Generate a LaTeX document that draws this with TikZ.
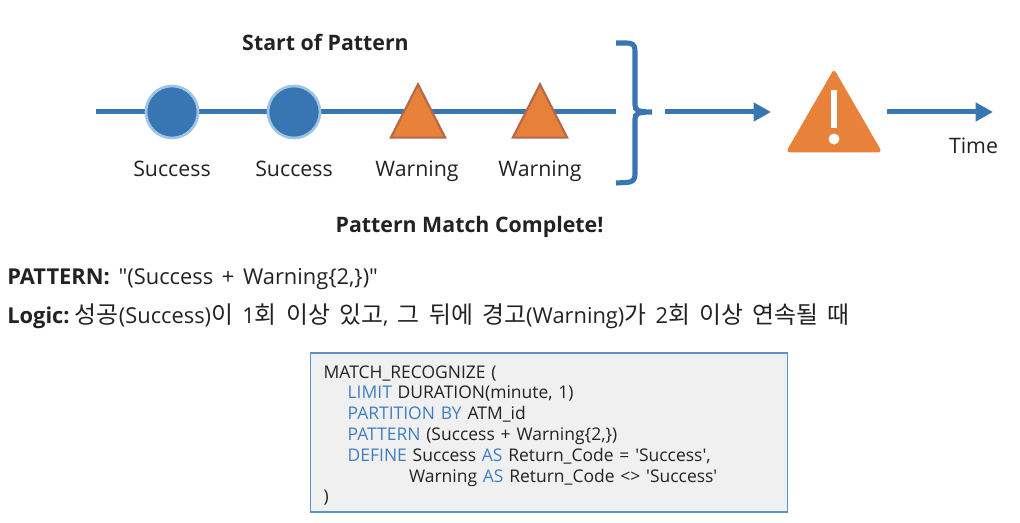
\documentclass[tikz,border=0pt]{standalone}
\usepackage{fontspec}
\setmainfont{Open Sans}[Ligatures=TeXOff]
\newfontfamily\krfont{Noto Sans CJK KR}[Scale=1.09]
\usepackage{xcolor}
\definecolor{lineblue}{HTML}{3776B3}
\definecolor{ringblue}{HTML}{9DC3E6}
\definecolor{warnorange}{HTML}{E8823A}
\definecolor{warnedge}{HTML}{B5694A}
\definecolor{boxgray}{HTML}{F0F0F0}
\definecolor{boxedge}{HTML}{5B93C7}
\definecolor{kwblue}{HTML}{3F7FBF}
\definecolor{inkgray}{HTML}{222222}
\usetikzlibrary{positioning,arrows.meta,shapes.geometric}
\tikzset{
  px/.style    ={x=0.75pt, y=-0.75pt},
  tline/.style ={line width=3.75pt, draw=lineblue},
  tarr/.style  ={tline, -{Triangle[length=13pt, width=13.5pt]}},
  okdot/.style ={circle, fill=lineblue, draw=ringblue, line width=2pt, minimum size=39pt, inner sep=0pt},
  warntri/.style={isosceles triangle, isosceles triangle apex angle=54, shape border rotate=90,
                inner sep=0pt, minimum height=40pt, fill=warnorange, draw=warnedge, line width=1.6pt},
  lab/.style   ={font=\fontsize{16}{18}\selectfont, text=inkgray, inner sep=0pt, anchor=base},
  head/.style  ={lab, font=\fontsize{16}{18}\selectfont\bfseries},
  info/.style  ={lab, anchor=base west, font=\fontsize{16.4}{18}\selectfont},
  codebox/.style={draw=boxedge, fill=boxgray, line width=1.1pt, minimum width=358pt, minimum height=119pt,
                inner sep=0pt, inner xsep=10pt, align=left, text=inkgray, text width=338pt,
                font=\fontsize{13.1}{15.6}\selectfont},
}
\newcommand{\kw}[1]{\textcolor{kwblue}{#1}}
\newcommand{\kr}[1]{{\krfont #1}}
\newcommand{\widesp}[1]{\spaceskip=#1\relax}
\begin{document}
\begin{tikzpicture}[px]
  \useasboundingbox (0,0) rectangle (1020,523);
  % time line
  \coordinate (tstart) at (96,112);
  \coordinate (tend) at (616,112);
  \draw[tline] (tstart) -- (tend);
  \node[okdot] (s1) at (172,112) {};
  \node[okdot] (s2) at (294,112) {};
  \node[warntri] (w1) at (418,121) {};
  \node[warntri] (w2) at (540,121) {};
  \node[lab] (ls1) at (172,176.5) {Success};
  \node[lab] (ls2) at (294,176.5) {Success};
  \node[lab] (lw1) at (417,176.5) {Warning};
  \node[lab] (lw2) at (540,176.5) {Warning};
  \node[head] (start) at (325.5,51) {Start of Pattern};
  \node[head] (done) at (469.5,233) {Pattern Match Complete!};
  % bracket
  \draw[line width=3.8pt, draw=lineblue]
    (616,43) -- (626,43) .. controls (633,43) and (635,45) .. (635,51) -- (635,105)
    .. controls (635,110) and (637,112) .. (652,112)
    .. controls (637,112) and (635,114) .. (635,119) -- (635,174)
    .. controls (635,180) and (633,182) .. (626,182.5) -- (616,183);
  % warning sign
  \node[isosceles triangle, isosceles triangle apex angle=60, shape border rotate=90, inner sep=0pt,
        minimum height=58pt, fill=warnorange, draw=warnorange, line width=3pt, line join=round] (alert) at (834,124.5) {};
  \node[fill=white, inner sep=0pt, minimum width=5.2pt, minimum height=28.5pt] (bar) at (834,109) {};
  \node[circle, fill=white, inner sep=0pt, minimum size=8.2pt] (pt) at (834,139) {};
  \coordinate (a1) at (665,112);
  \coordinate (a2) at (771,112);
  \coordinate (a3) at (887,112);
  \coordinate (a4) at (993,112);
  \draw[tarr] (a1) -- (a2);
  \draw[tarr] (a3) -- (a4);
  \node[lab] (time) at (973.5,153.5) {Time};
  % pattern text
  \node[info] (pat) at (7,285) {\widesp{6.5pt}\textbf{PATTERN:} "(Success + Warning\{2,\})"};
  \node[info] (logic) at (7,324) {\widesp{7pt}\textbf{Logic:}\hspace{4pt}\kr{성공}(Success)\kr{이} 1\kr{회 이상 있고}, \kr{그 뒤에 경고}(Warning)\kr{가} 2\kr{회 이상 연속될 때}};
  \node[codebox] (code) at (549,432.5) {%
    \rule{0pt}{14pt}MATCH\_RECOGNIZE (\\
    \hspace*{18pt}\kw{LIMIT} DURATION(minute, 1)\\
    \hspace*{18pt}\kw{PARTITION BY} ATM\_id\\
    \hspace*{18pt}\kw{PATTERN} (Success + Warning\{2,\})\\
    \hspace*{18pt}\kw{DEFINE} Success \kw{AS} Return\_Code = 'Success',\\
    \hspace*{64pt}Warning \kw{AS} Return\_Code <> 'Success'\\
    )};
\end{tikzpicture}
\end{document}
